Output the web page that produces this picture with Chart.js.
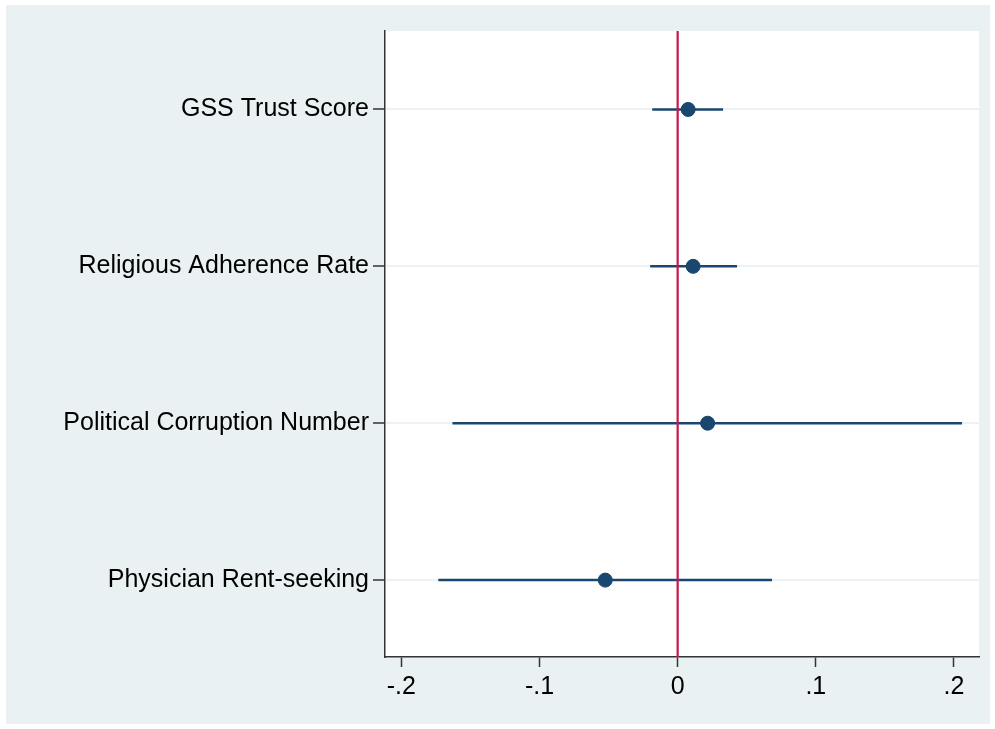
<!DOCTYPE html>
<html>
<head>
<meta charset="utf-8">
<script src="https://cdn.jsdelivr.net/npm/chart.js@4.4.1/dist/chart.umd.min.js"></script>
<style>
  html, body { margin: 0; padding: 0; background: #fff; }
  #wrap { width: 995px; height: 729px; }
</style>
</head>
<body>
<div id="wrap"><canvas id="chartCanvas" width="995" height="729"></canvas></div>
<script>
const categories = ['GSS Trust Score', 'Religious Adherence Rate', 'Political Corruption Number', 'Physician Rent-seeking'];
const estimates = [0.0076, 0.0112, 0.0217, -0.0524];
const lowerCI = [-0.0184, -0.0199, -0.163, -0.1732];
const upperCI = [0.0329, 0.043, 0.2058, 0.0683];
const xTicks = [-0.2, -0.1, 0, 0.1, 0.2];
const refValue = 0;

const navy = '#1A476F';
const grid = '#EAF2F3';
const axisCol = '#333333';

// stata-like background: white page, light blue-gray graph region, white plot region
const bgPlugin = {
    id: 'bg',
    beforeDraw(chart) {
        const c = chart.ctx;
        const a = chart.chartArea;
        c.save();
        c.fillStyle = '#ffffff';
        c.fillRect(0, 0, chart.width, chart.height);
        c.fillStyle = '#EAF1F3';
        c.fillRect(6, 5, 984, 719);
        c.fillStyle = '#ffffff';
        c.fillRect(a.left, a.top, a.right - a.left, a.bottom - a.top);
        c.restore();
    },
};

const ciSets = categories.map((cat, i) => ({
    type: 'line',
    label: cat + ' CI',
    data: [{ x: lowerCI[i], y: i + 1 }, { x: upperCI[i], y: i + 1 }],
    borderColor: navy,
    borderWidth: 2.5,
    pointRadius: 0,
    order: 3,
}));

const ctx = document.getElementById('chartCanvas').getContext('2d');
new Chart(ctx, {
    type: 'scatter',
    data: {
        datasets: [
            {
                label: 'Estimate',
                data: categories.map((c, i) => ({ x: estimates[i], y: i + 1 })),
                backgroundColor: navy,
                borderColor: navy,
                pointRadius: 7,
                pointHoverRadius: 7,
                order: 1,
            },
            {
                type: 'line',
                label: 'zero',
                data: [{ x: refValue, y: 0.5 }, { x: refValue, y: 4.49 }],
                borderColor: '#C8174A',
                borderWidth: 2.2,
                pointRadius: 0,
                order: 2,
            },
            ...ciSets,
        ],
    },
    options: {
        responsive: false,
        animation: false,
        layout: { padding: { left: 0, right: 16, top: 31, bottom: 0 } },
        plugins: {
            legend: { display: false },
            tooltip: { enabled: false },
        },
        scales: {
            x: {
                type: 'linear',
                min: -0.2118,
                max: 0.2181,
                afterBuildTicks: (s) => { s.ticks = xTicks.map(v => ({ value: v })); },
                afterFit: (s) => { s.height = 72; },
                border: { display: true, color: axisCol, width: 1.5 },
                grid: {
                    drawOnChartArea: false,
                    drawTicks: true,
                    tickLength: 10,
                    tickColor: axisCol,
                    tickWidth: 1.5,
                },
                ticks: {
                    color: '#000',
                    padding: 5,
                    maxRotation: 0,
                    font: { family: '"Liberation Sans", Arial, Helvetica, sans-serif', size: 25 },
                    callback: (v) => v === 0 ? '0' : (v < 0 ? '-' : '') + '.' + Math.round(Math.abs(v) * 10),
                },
            },
            y: {
                type: 'linear',
                reverse: true,
                min: 0.5,
                max: 4.49,
                afterBuildTicks: (s) => { s.ticks = categories.map((c, i) => ({ value: i + 1 })); },
                afterFit: (s) => { s.width = 385; },
                border: { display: true, color: axisCol, width: 1.5 },
                grid: {
                    color: grid,
                    lineWidth: 2,
                    drawTicks: true,
                    tickLength: 12,
                    tickColor: axisCol,
                    tickWidth: 1.5,
                },
                ticks: {
                    color: '#000',
                    padding: 4,
                    font: { family: '"Liberation Sans", Arial, Helvetica, sans-serif', size: 25 },
                    callback: (v) => categories[Math.round(v) - 1],
                },
            },
        },
    },
    plugins: [bgPlugin],
});
</script>
</body>
</html>
